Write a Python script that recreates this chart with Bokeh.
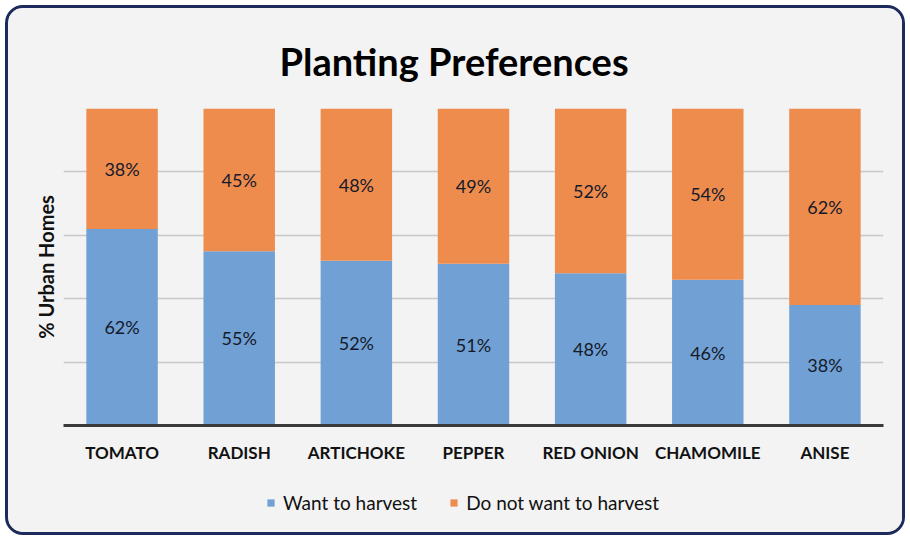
from bokeh.plotting import figure
from bokeh.layouts import column
from bokeh.models import (ColumnDataSource, FactorRange, FixedTicker, LabelSet,
                          Legend, LegendItem, Range1d)
from bokeh.core.properties import value
from bokeh.embed import file_html
from bokeh.resources import INLINE

crops = ["TOMATO", "RADISH", "ARTICHOKE", "PEPPER", "RED ONION", "CHAMOMILE", "ANISE"]
want = [62, 55, 52, 51, 48, 46, 38]
not_want = [38, 45, 48, 49, 52, 54, 62]
series = ["Want to harvest", "Do not want to harvest"]
colors = ["#70A0D4", "#EE8C4E"]
grid_ticks = [0, 20, 40, 60, 80, 100]

src = ColumnDataSource(dict(
    crop=crops,
    want=want,
    not_want=not_want,
    want_lbl=[f"{v}%" for v in want],
    not_lbl=[f"{v}%" for v in not_want],
    want_mid=[w / 2 for w in want],
    not_mid=[w + n / 2 for w, n in zip(want, not_want)],
))

FONT = "Lato"
BG = "#f3f3f3"

# ---------------- main chart ----------------
p = figure(x_range=FactorRange(*crops, range_padding=0), y_range=Range1d(0, 100),
           width=894, height=457, frame_width=820, frame_height=317,
           output_backend="svg", toolbar_location=None,
           min_border_left=55, min_border_right=19, min_border_top=100, min_border_bottom=40,
           title="Planting Preferences")
p.background_fill_color = BG
p.border_fill_color = BG
p.outline_line_color = None

p.title.align = "left"
p.title.offset = 216
p.title.standoff = 50
p.title.text_font = FONT
p.title.text_font_style = "bold"
p.title.text_font_size = "38px"
p.title.text_color = "#000000"

rs = p.vbar_stack(["want", "not_want"], x="crop", width=0.61, color=colors,
                  line_color=None, source=src)

for ycol, tcol in (("want_mid", "want_lbl"), ("not_mid", "not_lbl")):
    p.add_layout(LabelSet(x="crop", y=ycol, text=tcol, source=src,
                          text_align="center", text_baseline="middle",
                          text_font=value(FONT), text_font_size="18px",
                          text_color="#151a2a"))

ya = p.yaxis[0]
ya.axis_label = "% Urban Homes"
ya.axis_label_text_font = FONT
ya.axis_label_text_font_style = "bold"
ya.axis_label_text_font_size = "20px"
ya.axis_label_text_color = "#111111"
ya.axis_label_standoff = 6
ya.axis_line_color = None
ya.major_tick_line_color = None
ya.minor_tick_line_color = None
ya.ticker = FixedTicker(ticks=[])

p.xgrid.visible = False
p.ygrid.ticker = FixedTicker(ticks=grid_ticks)
p.ygrid.grid_line_color = "#c8c8c8"
p.ygrid.grid_line_width = 1.5

xa = p.xaxis[0]
xa.axis_line_color = "#3a3a3a"
xa.axis_line_width = 3
xa.major_tick_line_color = None
xa.minor_tick_line_color = None
xa.major_label_text_font = FONT
xa.major_label_text_font_style = "bold"
xa.major_label_text_font_size = "17px"
xa.major_label_text_color = "#111111"
xa.major_label_standoff = 10

# ---------------- legend strip ----------------
lg = figure(width=894, height=67, output_backend="svg", toolbar_location=None,
            min_border=0, x_range=Range1d(0, 1), y_range=Range1d(0, 1),
            x_axis_location=None, y_axis_location=None)
lg.background_fill_color = BG
lg.border_fill_color = BG
lg.outline_line_color = None
lg.grid.visible = False
off = ColumnDataSource(dict(x=[-10], y=[-10]))
d1 = lg.rect(x="x", y="y", width=0.1, height=0.1, fill_color=colors[0],
             line_color=None, source=off)
d2 = lg.rect(x="x", y="y", width=0.1, height=0.1, fill_color=colors[1],
             line_color=None, source=off)

legend = Legend(items=[LegendItem(label=series[0], renderers=[d1]),
                       LegendItem(label=series[1], renderers=[d2])],
                orientation="horizontal", location=(203, 18),
                glyph_width=9, glyph_height=9, label_standoff=8, spacing=32,
                label_text_font=FONT, label_text_font_size="19px",
                label_text_color="#111111",
                background_fill_alpha=0, border_line_color=None,
                margin=0, padding=0)
lg.add_layout(legend, "center")

root = column(p, lg, spacing=0,
              styles={"margin": "5px 0 0 5px", "border": "3px solid #1d2a5c",
                      "border-radius": "18px", "overflow": "hidden",
                      "background-color": BG})

open("out.html", "w").write(file_html(root, INLINE))
